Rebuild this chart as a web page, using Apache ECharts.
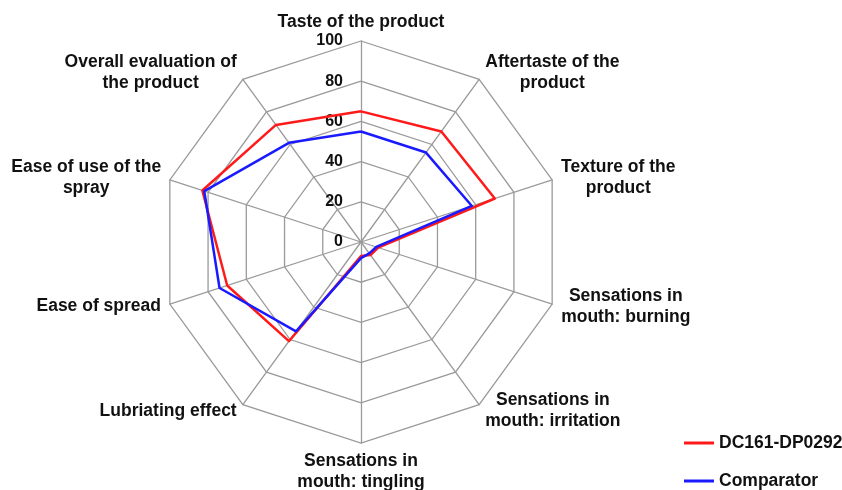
<!DOCTYPE html>
<html>
<head>
<meta charset="utf-8">
<script src="https://cdn.jsdelivr.net/npm/echarts@6/dist/echarts.min.js"></script>
<style>
  html, body { margin: 0; background: #fff; }
  #chart { width: 842px; height: 490px; }
</style>
</head>
<body>
<div id="chart"></div>
<script>
// clockwise from the top
const categories = [
  'Taste of the product',
  'Aftertaste of the\nproduct',
  'Texture of the\nproduct',
  'Sensations in\nmouth: burning',
  'Sensations in\nmouth: irritation',
  'Sensations in\nmouth: tingling',
  'Lubriating effect',
  'Ease of spread',
  'Ease of use of the\nspray',
  'Overall evaluation of\nthe product'
];
const dc161 = [65, 68, 70, 9, 8, 7, 61, 70, 83, 72];
const comparator = [55, 55, 58, 8, 7, 8, 55, 74, 82, 61];
const seriesNames = ['DC161-DP0292', 'Comparator'];
const tickMax = 100;
const tickStep = 20;

const FONT = '"Liberation Sans", Arial, sans-serif';
const NAME_SIZE = 17.5;
const TEXT = '#111';
const GRID = '#9a9a9a';
const RED = '#ff1a1a';
const BLUE = '#1a1aff';

// echarts radar goes counter-clockwise, so flip the order after the first axis
const ccw = (a) => [a[0], ...a.slice(1).reverse()];

// measure each name so multi-line names stay centred inside their block
const ctx = document.createElement('canvas').getContext('2d');
ctx.font = 'bold ' + NAME_SIZE + 'px ' + FONT;
const rich = {};
categories.forEach((c, i) => {
  const w = Math.max(...c.split('\n').map((l) => ctx.measureText(l).width));
  rich['n' + i] = { width: Math.ceil(w) + 2, align: 'center', fontSize: NAME_SIZE, fontWeight: 'bold', lineHeight: 21, color: TEXT, fontFamily: FONT };
});

const indicator = ccw(categories).map((name, k) => {
  const ind = { name: name, min: 0, max: tickMax };
  if (k === 0) ind.axisLabel = { show: true };
  return ind;
});

const legendText = { color: TEXT, fontSize: NAME_SIZE, fontWeight: 'bold', fontFamily: FONT, lineHeight: 20 };

const chart = echarts.init(document.getElementById('chart'));
chart.setOption({
  backgroundColor: '#fff',
  animation: false,
  legend: [
    { left: 684, top: 433, padding: 0, itemWidth: 30, itemHeight: 3, icon: 'rect', data: [seriesNames[0]], textStyle: legendText },
    { left: 684, top: 471, padding: 0, itemWidth: 30, itemHeight: 3, icon: 'rect', data: [seriesNames[1]], textStyle: legendText }
  ],
  radar: {
    center: [361, 242],
    radius: 201,
    shape: 'polygon',
    splitNumber: tickMax / tickStep,
    indicator: indicator,
    axisName: {
      color: TEXT,
      fontSize: NAME_SIZE,
      fontWeight: 'bold',
      fontFamily: FONT,
      formatter: (name) => {
        const i = categories.indexOf(name);
        return name.split('\n').map((l) => '{n' + i + '|' + l + '}').join('\n');
      },
      rich: rich
    },
    nameGap: 8,
    axisLine: { lineStyle: { color: GRID, width: 1.3 } },
    splitLine: { lineStyle: { color: GRID, width: 1.3 } },
    splitArea: { show: false },
    axisTick: { show: false },
    axisLabel: {
      show: false,
      color: TEXT,
      fontSize: 16,
      fontWeight: 'bold',
      fontFamily: FONT,
      margin: 18
    }
  },
  series: [{
    type: 'radar',
    symbol: 'none',
    data: [
      { name: seriesNames[0], value: ccw(dc161), lineStyle: { color: RED, width: 2.5 }, itemStyle: { color: RED } },
      { name: seriesNames[1], value: ccw(comparator), lineStyle: { color: BLUE, width: 2.5 }, itemStyle: { color: BLUE } }
    ]
  }]
});
</script>
</body>
</html>
